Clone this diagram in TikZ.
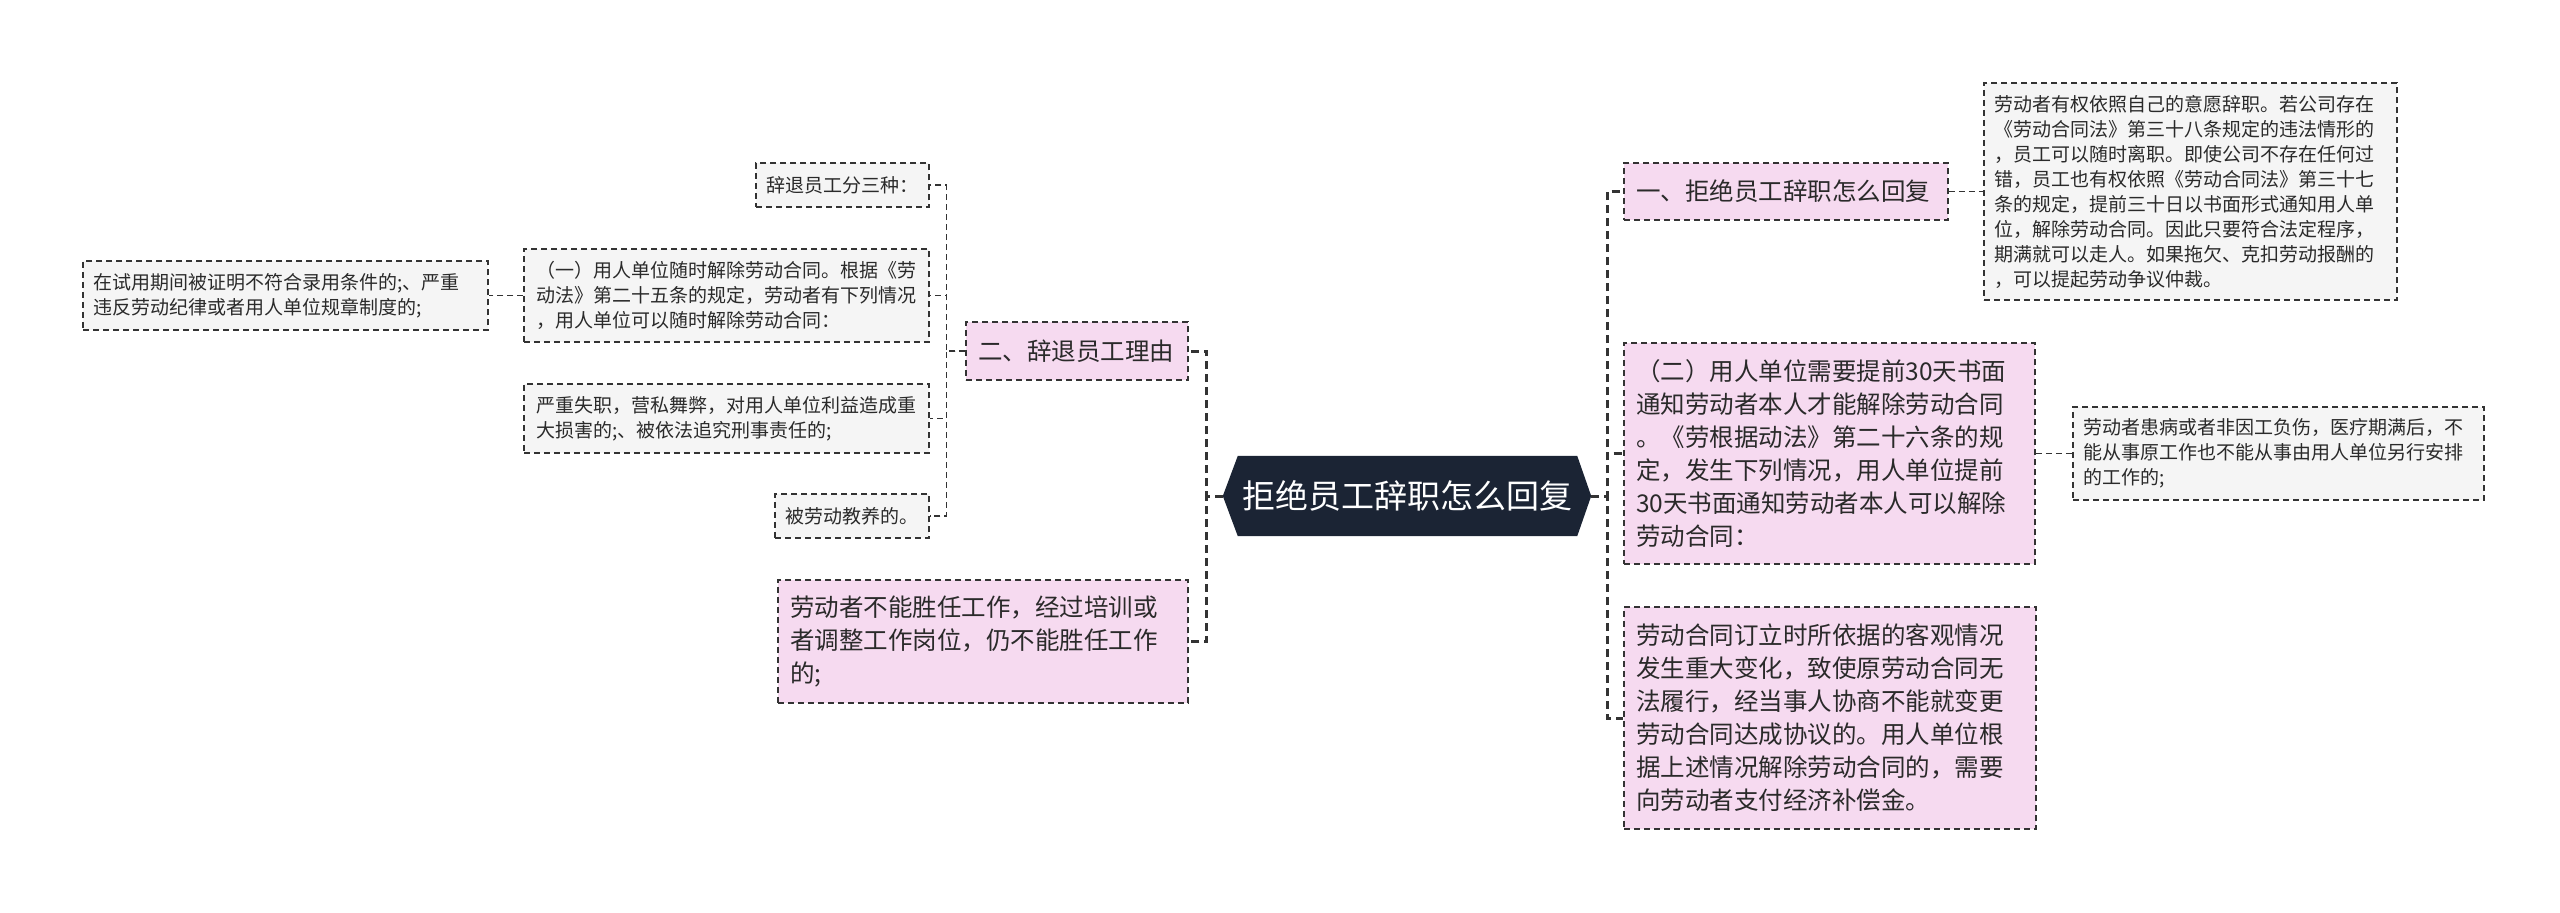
\documentclass[tikz,border=0pt]{standalone}
\usepackage{fontspec}
\setmainfont{Noto Sans CJK SC}
\usepackage{xcolor}
\usepackage{tikz}
\usetikzlibrary{backgrounds}
\definecolor{pinkbg}{HTML}{F6DAF0}
\definecolor{greybg}{HTML}{F5F5F5}
\definecolor{rootbg}{HTML}{1B2434}
\definecolor{linec}{HTML}{333333}
\definecolor{textc}{HTML}{2A2A2A}

\begin{document}
\begin{tikzpicture}[
    x=1pt,y=-1pt,
    box/.style={draw=linec,line width=1.5pt,dash pattern=on 6pt off 4pt,align=left,
        inner xsep=12pt,inner ysep=0pt,text=textc},
    topic/.style={box,fill=pinkbg,font=\fontsize{24.5}{33}\selectfont},
    leaf/.style={box,fill=greybg,font=\fontsize{19}{25}\selectfont},
    trunk/.style={draw=linec,line width=3pt,dash pattern=on 8pt off 5pt},
    twig/.style={draw=linec,line width=1.5pt,dash pattern=on 6pt off 4pt}
]
\useasboundingbox (0,0) rectangle (2560,913);

\node[text=white,font=\fontsize{33}{40}\selectfont,minimum width=368pt,
    minimum height=80pt,inner sep=0pt] (root) at (1407,496)
    {拒绝员工辞职怎么回复};
\begin{scope}[on background layer]
\fill[rootbg] (root.west) -- ([xshift=15pt]root.north west)
    -- ([xshift=-14pt]root.north east) -- (root.east)
    -- ([xshift=-14pt]root.south east) -- ([xshift=15pt]root.south west) -- cycle;
\end{scope}

\node[topic,text width=198pt,minimum height=58pt] (er) at (1077,351)
    {二、辞退员工理由};
\node[topic,text width=386pt,minimum height=123pt] (bn) at (983,641.5)
    {劳动者不能胜任工作，经过培训或\\者调整工作岗位，仍不能胜任工作\\的;};
\node[leaf,inner xsep=10pt,text width=153pt,minimum height=44pt] (ts) at (842.5,185)
    {辞退员工分三种：};
\node[leaf,text width=381pt,minimum height=93pt] (yi) at (726.5,295.5)
    {（一）用人单位随时解除劳动合同。根据《劳\\动法》第二十五条的规定，劳动者有下列情况\\，用人单位可以随时解除劳动合同：};
\node[leaf,inner xsep=10pt,text width=385pt,minimum height=69pt] (zs) at (285.5,295.5)
    {在试用期间被证明不符合录用条件的;、严重\\违反劳动纪律或者用人单位规章制度的;};
\node[leaf,text width=381pt,minimum height=69pt] (yz) at (726.5,418.5)
    {严重失职，营私舞弊，对用人单位利益造成重\\大损害的;、被依法追究刑事责任的;};
\node[leaf,inner xsep=10pt,text width=134pt,minimum height=44pt] (ld) at (852,516)
    {被劳动教养的。};

\node[topic,text width=300pt,minimum height=57pt] (a1) at (1786,191.5)
    {一、拒绝员工辞职怎么回复};
\node[leaf,inner xsep=10pt,text width=393pt,minimum height=217pt] (qz) at (2190.5,191.5)
    {劳动者有权依照自己的意愿辞职。若公司存在\\《劳动合同法》第三十八条规定的违法情形的\\，员工可以随时离职。即使公司不存在任何过\\错，员工也有权依照《劳动合同法》第三十七\\条的规定，提前三十日以书面形式通知用人单\\位，解除劳动合同。因此只要符合法定程序，\\期满就可以走人。如果拖欠、克扣劳动报酬的\\，可以提起劳动争议仲裁。};
\node[topic,text width=387pt,minimum height=221pt] (b2) at (1829.5,453.5)
    {（二）用人单位需要提前30天书面\\通知劳动者本人才能解除劳动合同\\。《劳根据动法》第二十六条的规\\定，发生下列情况，用人单位提前\\30天书面通知劳动者本人可以解除\\劳动合同：};
\node[leaf,inner xsep=10pt,text width=391pt,minimum height=93pt] (hb) at (2278.5,453.5)
    {劳动者患病或者非因工负伤，医疗期满后，不\\能从事原工作也不能从事由用人单位另行安排\\的工作的;};
\node[topic,text width=388pt,minimum height=222pt] (bh) at (1830,718)
    {劳动合同订立时所依据的客观情况\\发生重大变化，致使原劳动合同无\\法履行，经当事人协商不能就变更\\劳动合同达成协议的。用人单位根\\据上述情况解除劳动合同的，需要\\向劳动者支付经济补偿金。};

\draw[trunk] (root.west) -- ++(-16,0) |- (er.east);
\draw[trunk] (root.west) -- ++(-16,0) |- (bn.east);
\draw[trunk] (root.east) -- ++(16,0) |- (a1.west);
\draw[trunk] (root.east) -- ++(16,0) |- (b2.west);
\draw[trunk] (root.east) -- ++(16,0) |- (bh.west);

\draw[twig] (er.west) -- ++(-19,0) |- (ts.east);
\draw[twig] (er.west) -- ++(-19,0) |- (yi.east);
\draw[twig] (er.west) -- ++(-19,0) |- (yz.east);
\draw[twig] (er.west) -- ++(-19,0) |- (ld.east);
\draw[twig] (yi.west) -- (zs.east);
\draw[twig] (a1.east) -- (qz.west);
\draw[twig] (b2.east) -- (hb.west);
\end{tikzpicture}
\end{document}
